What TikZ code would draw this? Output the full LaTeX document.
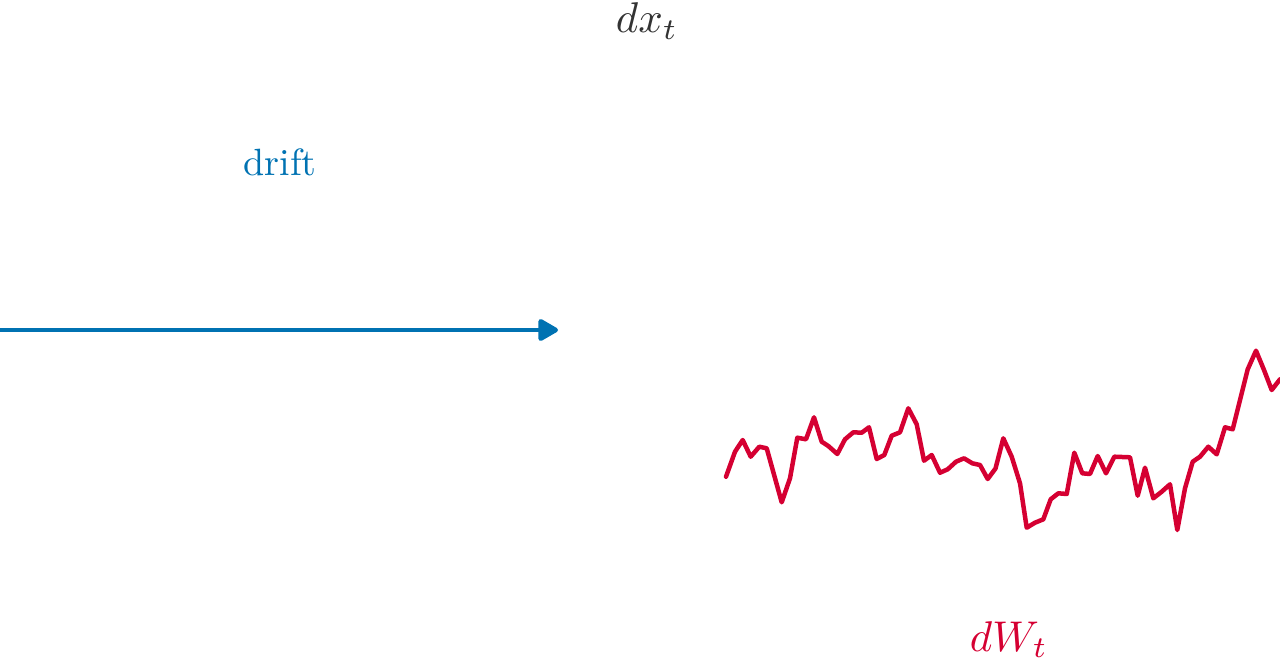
\documentclass[tikz,border=0pt]{standalone}
\usetikzlibrary{arrows.meta}
\definecolor{driftblue}{RGB}{0,114,178}
\definecolor{noisered}{RGB}{213,0,50}
\definecolor{titlegray}{RGB}{51,51,51}
\begin{document}
\begin{tikzpicture}[x=1pt,y=-1pt,
  lbl/.style={inner sep=0pt,anchor=base},
  mathlbl/.style={lbl,scale=4.3},
  driftarrow/.style={driftblue,line width=4.5pt,-{Triangle[length=22pt,width=24pt,line join=round]}},
  noise/.style={noisered,line width=4.5pt,line join=round,line cap=round}]
\useasboundingbox (0,0) rectangle (1280,661);
\node[mathlbl,titlegray] (dx) at (647,33) {$dx_t$};
\node[lbl,driftblue,scale=3.8] (drift) at (280,175) {drift};
\node[mathlbl,noisered] (dw) at (1009,651) {$dW_t$};
\coordinate (a0) at (0,330);
\coordinate (a1) at (558,330);
\draw[driftarrow] (a0) -- (a1);
\draw[noise] (726,476.7) -- (735,451.7) -- (742.7,440) -- (750.7,456.7) -- (759.3,446.7)
 -- (766.7,448.3) -- (781.7,502.3) -- (790,478.3) -- (797.3,437.7) -- (806,439.3)
 -- (814,417.3) -- (821.7,441.7) -- (828.3,446) -- (837.3,454) -- (845,439.3)
 -- (853.3,432.3) -- (861.7,432.7) -- (869,427.3) -- (876.7,459) -- (884.3,455)
 -- (891.7,435.7) -- (900,432.3) -- (908.3,408.3) -- (916.7,424.3) -- (924,460.7)
 -- (931.7,455) -- (940,472.7) -- (947.7,469.3) -- (956,461.7) -- (964,458.3)
 -- (972.3,463.3) -- (980,465) -- (987.7,479) -- (995.5,468.5) -- (1003.3,438.3)
 -- (1011.7,456.7) -- (1020,483.3) -- (1026.7,527.7) -- (1035,522.7) -- (1043.3,519.3)
 -- (1050.7,499.3) -- (1058.3,493.3) -- (1066.7,494) -- (1074.3,452.7) -- (1082.3,473.3)
 -- (1090,474) -- (1097.7,456) -- (1106,473.3) -- (1114.3,456.7) -- (1130,457.3)
 -- (1137.7,495.7) -- (1145,467.7) -- (1153.3,498.3) -- (1161.7,491.7) -- (1170,484.3)
 -- (1177.3,530) -- (1185,488.3) -- (1192.7,461.7) -- (1200,456.7) -- (1208.3,446.7)
 -- (1216.7,454.3) -- (1225,427.3) -- (1232.7,429.3) -- (1240,400) -- (1247.7,369.3)
 -- (1256,350.7) -- (1264,370) -- (1271.7,390) -- (1280,379.3);
\end{tikzpicture}
\end{document}
